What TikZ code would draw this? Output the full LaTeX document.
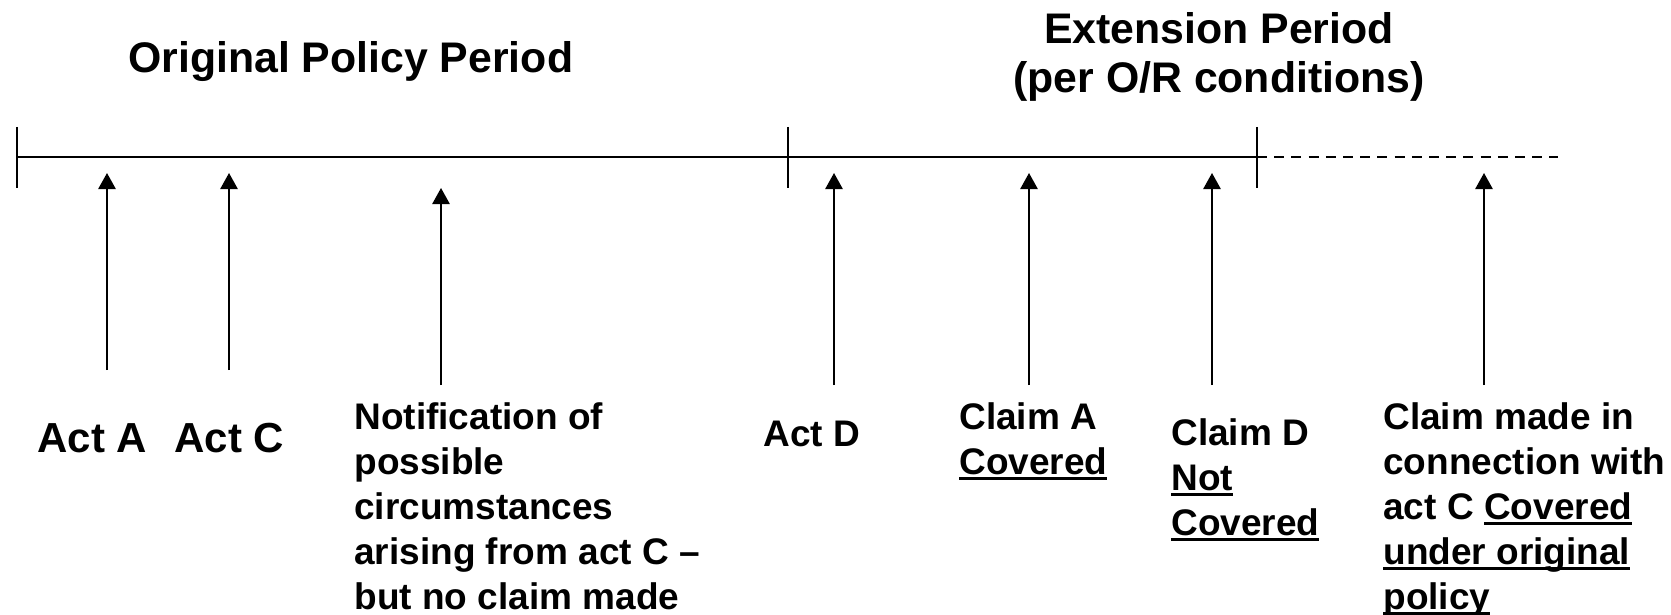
\documentclass[tikz,border=0pt]{standalone}
\usepackage{fontspec}
\setmainfont{Liberation Sans}
\usetikzlibrary{arrows.meta}
\newcommand\myul[1]{\setbox0\hbox{#1}\rlap{\vrule height -1.4pt depth 2.9pt width \wd0}\box0}
\tikzset{
  axis/.style={line width=1pt},
  tick/.style={line width=1pt},
  futureline/.style={line width=1pt, dash pattern=on 5pt off 3.6pt},
  arr/.style={line width=1pt, -{Triangle[width=8.6pt,length=8pt]}},
  titletxt/.style={inner sep=0pt, font=\fontsize{21.4}{24}\selectfont\bfseries},
  bigtxt/.style={inner sep=0pt, font=\fontsize{21}{23}\selectfont\bfseries},
  lbl/.style={inner sep=0pt, anchor=base west, font=\fontsize{18.5}{22.5}\selectfont\bfseries},
}
\begin{document}
\begin{tikzpicture}[x=0.5pt,y=-0.5pt]
\useasboundingbox (0,0) rectangle (1671,615);
% timeline
\coordinate (t0) at (17,157);
\coordinate (t1) at (788,157);
\coordinate (t2) at (1257,157);
\coordinate (tend) at (1558,157);
\draw[axis] (t0) -- (t2);
\draw[futureline] (t2) -- (tend);
\foreach \n/\x in {k0/17,k1/788,k2/1257}{
  \coordinate (\n top) at (\x,127);
  \coordinate (\n bot) at (\x,188);
  \draw[tick] (\n top) -- (\n bot);
}
% titles
\node[titletxt, anchor=base west] (orig) at (128,73) {Original Policy Period};
\node[titletxt, anchor=base] (ext1) at (1219,44) {Extension Period};
\node[titletxt, anchor=base] (ext2) at (1219,93) {(per O/R conditions)};
% arrows
\foreach \n/\x/\b/\t in {aA/107/370/173, aC/229/370/173, aN/441/385/188, aD/834/385/173, aCA/1029/385/173, aCD/1212/385/173, aCM/1484/385/173}{
  \coordinate (\n s) at (\x,\b);
  \coordinate (\n e) at (\x,\t);
  \draw[arr] (\n s) -- (\n e);
}
% labels
\node[bigtxt, anchor=base west] (actA) at (37,452) {Act A};
\node[bigtxt, anchor=base west] (actC) at (174,452) {Act C};
\node[lbl] (notif) at (354,429) {\vtop{\hbox{Notification of}\hbox{possible}\hbox{circumstances}\hbox{arising from act C –}\hbox{but no claim made}}};
\node[lbl] (actD) at (763,446) {Act D};
\node[lbl] (claimA) at (959,429) {\vtop{\hbox{Claim A}\hbox{\myul{Covered}}}};
\node[lbl] (claimD) at (1171,445) {\vtop{\hbox{Claim D}\hbox{\myul{Not}}\hbox{\myul{Covered}}}};
\node[lbl] (claimM) at (1383,429) {\vtop{\hbox{Claim made in}\hbox{connection with}\hbox{act C \myul{Covered}}\hbox{\myul{under original}}\hbox{\myul{policy}}}};
\end{tikzpicture}
\end{document}
